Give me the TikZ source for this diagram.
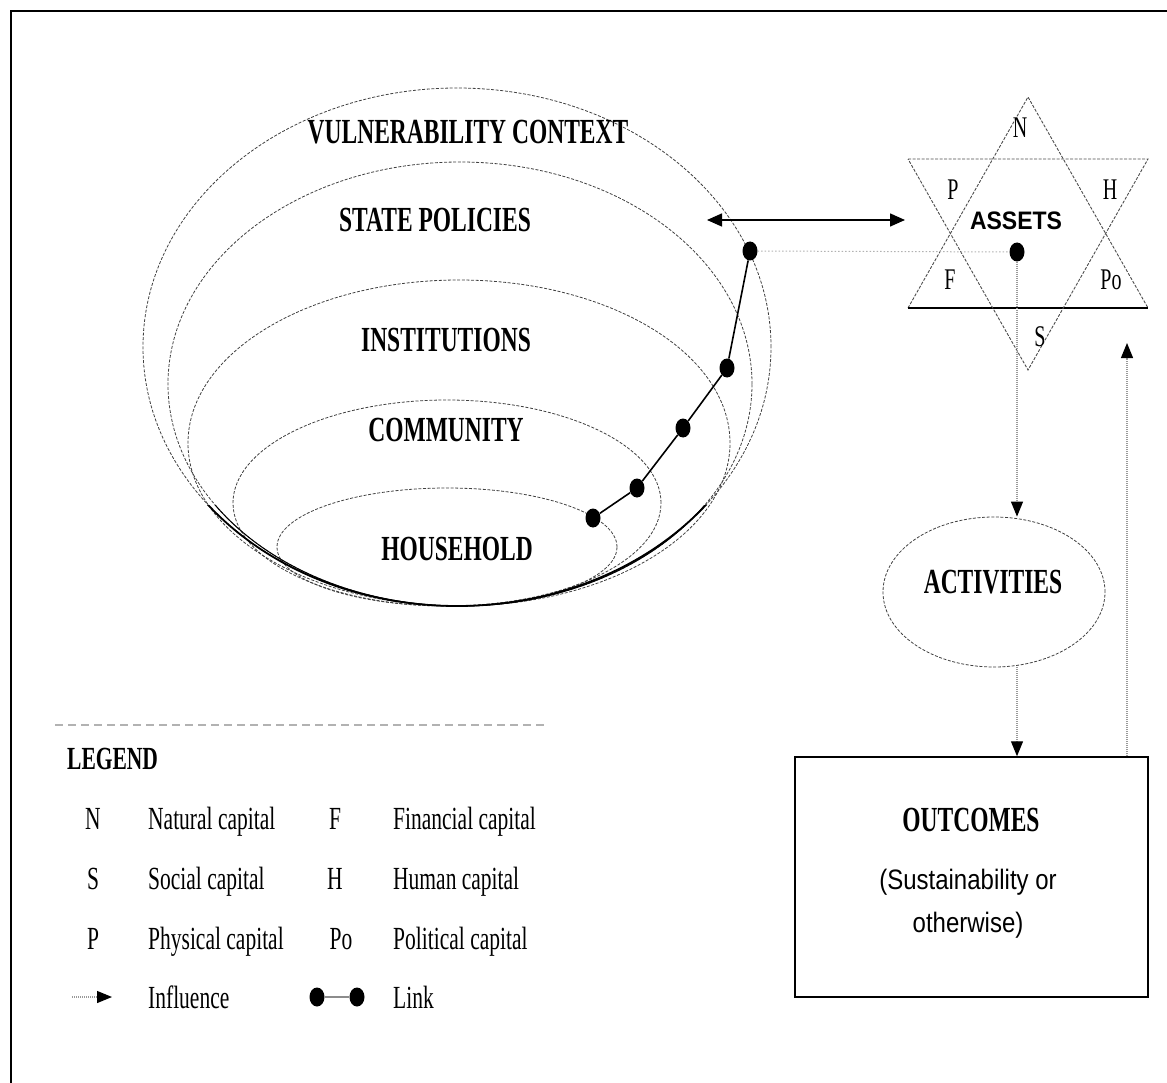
\documentclass[tikz,border=0pt]{standalone}
\usepackage{fontspec}
\setmainfont{Liberation Serif}
\setsansfont{Liberation Sans}
\usetikzlibrary{shapes.geometric,arrows.meta,calc}
\newcommand{\ys}[2][1.5]{\scalebox{1}[#1]{#2}}
\tikzset{
  ring/.style={ellipse, draw=black!75, line width=0.8pt, dash pattern=on 3pt off 1.6pt, inner sep=0pt},
  ttl/.style={inner sep=0pt, font=\fontsize{23.5}{28}\selectfont\bfseries},
  lgd/.style={inner sep=0pt, anchor=base west, font=\fontsize{21.5}{26}\selectfont},
  lgc/.style={inner sep=0pt, anchor=base, font=\fontsize{21.5}{26}\selectfont},
  starl/.style={inner sep=0pt, font=\fontsize{20}{24}\selectfont},
  dot/.style={ellipse, fill=black, inner sep=0pt, minimum width=15pt, minimum height=19pt},
  infl/.style={draw=black!40, line width=1.2pt, dash pattern=on 1pt off 1pt,
               -{Triangle[length=15pt,width=12pt,color=black]}},
  linkl/.style={draw=black, line width=1.6pt},
  faint/.style={draw=black!30, line width=1pt, dash pattern=on 1.5pt off 2pt},
  tri/.style={draw=black!70, line width=0.9pt, dash pattern=on 3pt off 1.5pt},
}
\begin{document}
\begin{tikzpicture}[x=1pt,y=-1pt]
\useasboundingbox (0,0) rectangle (1167,1083);
% frame
\coordinate (fbl) at (11,1083);
\coordinate (ftl) at (11,11);
\coordinate (ftr) at (1167,11);
\draw[line width=2pt] (fbl) -- (ftl) -- (ftr);

% nested ellipses
\node[ring, minimum width=628pt, minimum height=518pt] (vc) at (457,347) {};
\node[ring, minimum width=584pt, minimum height=444pt] (sp) at (460,384) {};
\node[ring, minimum width=542pt, minimum height=326pt] (in) at (459,443) {};
\node[ring, minimum width=428pt, minimum height=206pt] (co) at (447,503) {};
\node[ring, minimum width=340pt, minimum height=118pt] (ho) at (447,547) {};
\begin{scope}
  \clip (0,505) rectangle (1167,620);
  \draw[line width=1.8pt] (vc.center) ellipse [x radius=314pt, y radius=259pt];
  \draw[line width=1pt] (sp.center) ellipse [x radius=292pt, y radius=222pt];
\end{scope}

\node[ttl] (tvc) at (468,132) {\ys{VULNERABILITY CONTEXT}};
\node[ttl] (tsp) at (435,220) {\ys{STATE POLICIES}};
\node[ttl] (tin) at (446,340) {\ys{INSTITUTIONS}};
\node[ttl] (tco) at (446,430) {\ys{COMMUNITY}};
\node[ttl] (tho) at (457,549) {\ys{HOUSEHOLD}};

% link chain
\node[dot] (d1) at (750,251) {};
\node[dot] (d2) at (727,368) {};
\node[dot] (d3) at (683,428) {};
\node[dot] (d4) at (637,488) {};
\node[dot] (d5) at (593,518) {};
\draw[linkl] (d5) -- (d4) -- (d3) -- (d2) -- (d1);

% star
\coordinate (ua) at (1028,97);
\coordinate (ul) at (908,308);
\coordinate (ur) at (1148,308);
\coordinate (dl) at (908,159);
\coordinate (dr) at (1148,159);
\coordinate (db) at (1028,370);
\draw[tri] (ul) -- (ua) -- (ur);
\draw[line width=1.8pt] (ul) -- (ur);
\draw[tri] (dl) -- (dr) -- (db) -- cycle;
\node[starl] (sN) at (1020,128) {\ys{N}};
\node[starl] (sP) at (953,190) {\ys{P}};
\node[starl] (sH) at (1110,190) {\ys{H}};
\node[starl] (sF) at (950,280) {\ys{F}};
\node[starl] (sPo) at (1111,280) {\ys{Po}};
\node[starl] (sS) at (1040,337) {\ys{S}};
\node[inner sep=0pt, font=\sffamily\bfseries\fontsize{23}{28}\selectfont] (tas) at (1016,221) {\ys[1.1]{ASSETS}};
\node[dot] (sd) at (1017,252) {};
\draw[faint] (d1) -- (sd);

% double arrow
\coordinate (al) at (707,220);
\coordinate (ar) at (905,220);
\draw[line width=1.5pt, {Triangle[length=15pt,width=13pt]}-{Triangle[length=15pt,width=13pt]}] (al) -- (ar);

% activities and outcomes
\node[ring, minimum width=222pt, minimum height=150pt] (act) at (994,592) {};
\node[ttl] (tac) at (993,582) {\ys{ACTIVITIES}};
\node[draw, line width=1.5pt, inner sep=0pt, minimum width=353pt, minimum height=240pt] (out) at (971.5,877) {};
\node[ttl] (tou) at (971,820) {\ys{OUTCOMES}};
\node[inner sep=0pt, font=\sffamily\fontsize{24}{28}\selectfont] (tsu) at (968,882) {\ys[1.17]{(Sustainability or}};
\node[inner sep=0pt, font=\sffamily\fontsize{24}{28}\selectfont] (tot) at (968,925) {\ys[1.17]{otherwise)}};

\draw[infl] (sd.south) -- (sd |- act.north);
\draw[infl] (sd |- act.south) -- (sd |- out.north);
\coordinate (upend) at (1127,343);
\draw[infl] (out.north -| upend) -- (upend);

% legend
\coordinate (ls) at (55,725);
\coordinate (le) at (545,725);
\draw[draw=black!30, line width=1.5pt, dash pattern=on 8pt off 5pt] (ls) -- (le);
\node[lgd, font=\bfseries\fontsize{21.5}{26}\selectfont] (lg) at (67,769) {\ys{LEGEND}};

\node[lgc] (kN) at (93,829) {\ys{N}};
\node[lgd] (vN) at (148,829) {\ys{Natural capital}};
\node[lgc] (kF) at (335,829) {\ys{F}};
\node[lgd] (vF) at (393,829) {\ys{Financial capital}};

\node[lgc] (kS) at (93,889) {\ys{S}};
\node[lgd] (vS) at (148,889) {\ys{Social capital}};
\node[lgc] (kH) at (335,889) {\ys{H}};
\node[lgd] (vH) at (393,889) {\ys{Human capital}};

\node[lgc] (kP) at (93,949) {\ys{P}};
\node[lgd] (vP) at (148,949) {\ys{Physical capital}};
\node[lgc] (kPo) at (341,949) {\ys{Po}};
\node[lgd] (vPo) at (393,949) {\ys{Political capital}};

\coordinate (ia) at (72,997);
\coordinate (ib) at (112,997);
\draw[infl] (ia) -- (ib);
\node[lgd] (vI) at (148,1008) {\ys{Influence}};
\node[dot] (la) at (317,997) {};
\node[dot] (lb) at (357,997) {};
\draw[draw=black!45, line width=1.5pt] (la) -- (lb);
\node[lgd] (vL) at (393,1008) {\ys{Link}};
\end{tikzpicture}
\end{document}
